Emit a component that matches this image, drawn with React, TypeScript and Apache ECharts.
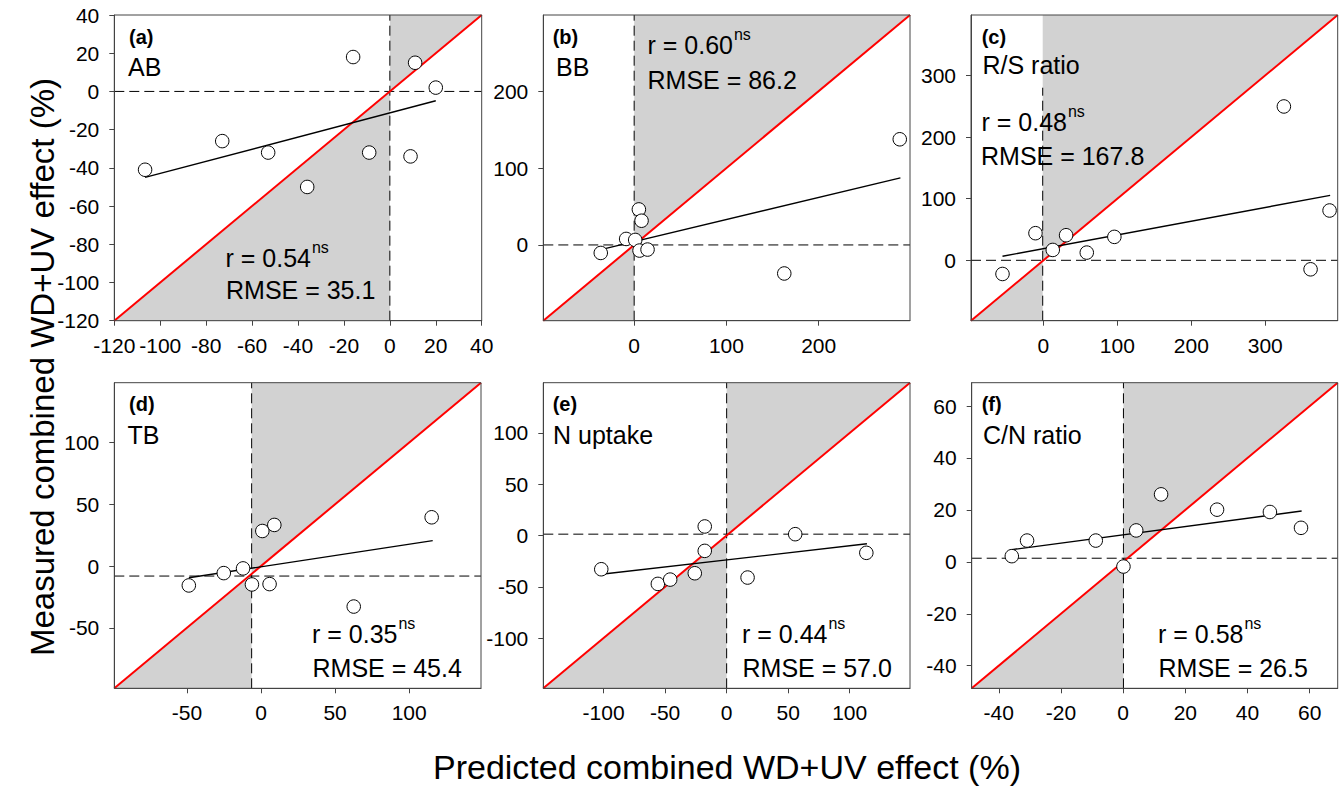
import React, { useEffect, useRef } from 'react';
import * as echarts from 'echarts';

// ---------------- data ----------------
const panelTags = ['(a)', '(b)', '(c)', '(d)', '(e)', '(f)'];
const variableNames = ['AB', 'BB', 'R/S ratio', 'TB', 'N uptake', 'C/N ratio'];
const rValues = ['0.54', '0.60', '0.48', '0.35', '0.44', '0.58'];
const significance = ['ns', 'ns', 'ns', 'ns', 'ns', 'ns'];
const rmseValues = ['35.1', '86.2', '167.8', '45.4', '57.0', '26.5'];

const predictedAB = [-106.6, -73, -53, -36, -16, -9, 9, 11, 20];
const measuredAB = [-41, -26, -32, -50, 18, -32, -34, 15, 2];
const fitAB = [[-106.6, -45], [20, -4.9]];

const predictedBB = [-36.2, -8.7, 1.1, 5.1, 8, 5.8, 14.5, 162.7, 287.9];
const measuredBB = [-10.4, 7.8, 6.5, 46.2, 31.5, -7.3, -6, -37.1, 137.4];
const fitBB = [[-36.2, -6], [288.6, 87.3]];

const predictedRS = [-55.4, -10.8, 12.6, 30.6, 58.6, 95.9, 325.2, 361.3, 387];
const measuredRS = [-22.2, 44, 16.8, 40.7, 12.5, 38, 249.6, -14.6, 80.8];
const fitRS = [[-55.4, 6.5], [387.8, 105.3]];

const predictedTB = [-48.7, -25.1, -12.1, -6.1, 0.9, 9, 5.8, 62.6, 115.2];
const measuredTB = [-15.7, -5.7, -1.9, -14.9, 28.4, 33.3, -14.6, -32.8, 39.5];
const fitTB = [[-48.7, -9.5], [115.9, 20.6]];

const predictedNU = [-101.9, -55.9, -45.9, -25.9, -17.8, -17.8, 17, 55.7, 113.5];
const measuredNU = [-32.9, -47.2, -43, -36.8, 8.8, -15, -41, 1.3, -16.9];
const fitNU = [[-101.9, -37.8], [114, -8.1]];

const predictedCN = [-35.8, -30.9, -8.8, 0.1, 4.2, 12.2, 30.2, 47.2, 57.2];
const measuredCN = [2.2, 8.2, 8.2, -1.8, 12.1, 26, 20.1, 19.2, 13.1];
const fitCN = [[-35.8, 4.7], [57.4, 19.6]];

const predictedAll = [predictedAB, predictedBB, predictedRS, predictedTB, predictedNU, predictedCN];
const measuredAll = [measuredAB, measuredBB, measuredRS, measuredTB, measuredNU, measuredCN];
const fitAll = [fitAB, fitBB, fitRS, fitTB, fitNU, fitCN];

// axis extents (same for x and y in each panel)
const axisRanges = [[-120, 40], [-98.5, 299], [-98, 398], [-99, 148.5], [-149, 149], [-48.7, 69]];
const tickValues = [
  [-120, -100, -80, -60, -40, -20, 0, 20, 40],
  [0, 100, 200],
  [0, 100, 200, 300],
  [-50, 0, 50, 100],
  [-100, -50, 0, 50, 100],
  [-40, -20, 0, 20, 40, 60],
];
// dashed reference lines
const refLineX = [0, 0, -1, -6.3, 0, 0.1];
const refLineY = [0, 0, 0, -8.1, 1.3, 1.4];
const refLineXTop = [40, 299, 280, 148.5, 149, 69];

const xTitle = 'Predicted combined WD+UV effect (%)';
const yTitle = 'Measured combined WD+UV effect (%)';

// ---------------- layout / style ----------------
const FONT = '"Liberation Sans", Arial, Helvetica, sans-serif';
const GREY = '#d2d2d2';
const FRAME = '#444444';

const gridRects = [
  { left: 114.3, top: 15, width: 367.4, height: 305.7 },
  { left: 543.3, top: 15, width: 366.7, height: 305.7 },
  { left: 971, top: 15, width: 366.7, height: 305.7 },
  { left: 114.3, top: 382.7, width: 366.7, height: 305.6 },
  { left: 543.3, top: 382.7, width: 366.7, height: 305.6 },
  { left: 971.7, top: 382.7, width: 366, height: 305.6 },
];

const annotationLayout = [
  { tag: [129, 36.5], name: [128, 66.7], r: [225.5, 257.5], rmse: [226, 290.2] },
  { tag: [552.7, 36.5], name: [556, 66.7], r: [647.5, 44.7], rmse: [647.5, 79.5] },
  { tag: [981.7, 36.5], name: [982.5, 65.3], r: [981.5, 121.7], rmse: [981, 156.2] },
  { tag: [129, 404], name: [127.5, 435], r: [312, 633.8], rmse: [312.5, 667.7] },
  { tag: [552.7, 404], name: [553, 435], r: [742, 633.8], rmse: [742.5, 667.7] },
  { tag: [981.7, 404], name: [983, 435], r: [1158, 633.8], rmse: [1158.5, 667.7] },
];

function measure(text: string, font: string): number {
  const c = document.createElement('canvas').getContext('2d');
  if (!c) return text.length * 12;
  c.font = font;
  return c.measureText(text).width;
}

function buildOption() {
  const grid: any[] = [];
  const xAxis: any[] = [];
  const yAxis: any[] = [];
  const series: any[] = [];
  const graphic: any[] = [];

  for (let i = 0; i < 6; i++) {
    const [lo, hi] = axisRanges[i];
    const xv = refLineX[i];
    const yh = refLineY[i];
    grid.push({
      ...gridRects[i],
      show: true,
      borderColor: FRAME,
      borderWidth: 1,
      backgroundColor: 'transparent',
      z: 10,
    });
    const axisCommon = {
      type: 'value',
      gridIndex: i,
      min: lo,
      max: hi,
      axisLine: { show: true, onZero: false, lineStyle: { color: FRAME, width: 1 } },
      splitLine: { show: false },
      axisTick: {
        show: true,
        length: 5,
        inside: false,
        lineStyle: { color: FRAME, width: 1 },
        customValues: tickValues[i],
      },
    };
    xAxis.push({
      ...axisCommon,
      position: 'bottom',
      axisLabel: {
        customValues: tickValues[i],
        fontSize: 21,
        fontFamily: FONT,
        color: '#000',
        margin: 14,
      },
    });
    yAxis.push({
      ...axisCommon,
      position: 'left',
      axisLabel: {
        customValues: tickValues[i],
        fontSize: 21,
        fontFamily: FONT,
        color: '#000',
        margin: 15,
      },
    });

    // grey shading
    series.push({
      type: 'custom',
      xAxisIndex: i,
      yAxisIndex: i,
      silent: true,
      z: 1,
      clip: false,
      data: [[xv, xv]],
      renderItem: (params: any, api: any) => ({
        type: 'group',
        children: [
          {
            type: 'polygon',
            shape: { points: [api.coord([lo, lo]), api.coord([xv, xv]), api.coord([xv, lo])] },
            style: { fill: GREY },
          },
          {
            type: 'polygon',
            shape: { points: [api.coord([xv, xv]), api.coord([hi, hi]), api.coord([xv, hi])] },
            style: { fill: GREY },
          },
        ],
      }),
    });
    // dashed vertical
    series.push({
      type: 'line',
      xAxisIndex: i,
      yAxisIndex: i,
      silent: true,
      symbol: 'none',
      z: 3,
      data: [[xv, lo], [xv, refLineXTop[i]]],
      lineStyle: { color: '#000', width: 1, type: [10, 5] },
    });
    // dashed horizontal
    series.push({
      type: 'line',
      xAxisIndex: i,
      yAxisIndex: i,
      silent: true,
      symbol: 'none',
      z: 3,
      data: [[lo, yh], [hi, yh]],
      lineStyle: { color: '#000', width: 1, type: [10, 5] },
    });
    // 1:1 line
    series.push({
      type: 'line',
      xAxisIndex: i,
      yAxisIndex: i,
      silent: true,
      symbol: 'none',
      z: 4,
      data: [[lo, lo], [hi, hi]],
      lineStyle: { color: '#ff0000', width: 2 },
    });
    // regression line
    series.push({
      type: 'line',
      xAxisIndex: i,
      yAxisIndex: i,
      silent: true,
      symbol: 'none',
      z: 5,
      data: fitAll[i],
      lineStyle: { color: '#000', width: 1.4 },
    });
    // points
    series.push({
      type: 'scatter',
      xAxisIndex: i,
      yAxisIndex: i,
      z: 6,
      symbol: 'circle',
      symbolSize: 13.5,
      data: predictedAll[i].map((x, k) => [x, measuredAll[i][k]]),
      itemStyle: { color: '#ffffff', borderColor: '#000', borderWidth: 1, opacity: 1 },
    });

    // annotations
    const L = annotationLayout[i];
    const mainFont = `25px ${FONT}`;
    const rText = `r = ${rValues[i]}`;
    const rW = measure(rText, mainFont);
    const txt = (x: number, y: number, text: string, size: number, weight = 'normal') => ({
      type: 'text',
      x,
      y,
      z: 20,
      silent: true,
      style: {
        text,
        fontSize: size,
        fontWeight: weight,
        fontFamily: FONT,
        fill: '#000',
        textAlign: 'left',
        textVerticalAlign: 'middle',
        verticalAlign: 'middle',
      },
    });
    graphic.push(txt(L.tag[0], L.tag[1], panelTags[i], 20, 'bold'));
    graphic.push(txt(L.name[0], L.name[1], variableNames[i], 25));
    graphic.push(txt(L.r[0], L.r[1], rText, 25));
    graphic.push(txt(L.r[0] + rW + 1, L.r[1] - 10, significance[i], 16));
    graphic.push(txt(L.rmse[0], L.rmse[1], `RMSE = ${rmseValues[i]}`, 25));
  }

  graphic.push({
    type: 'text',
    x: 727,
    y: 767,
    silent: true,
    style: {
      text: xTitle,
      fontSize: 34,
      fontFamily: FONT,
      fill: '#000',
      textAlign: 'center',
      textVerticalAlign: 'middle',
      verticalAlign: 'middle',
    },
  });
  graphic.push({
    type: 'text',
    x: 42,
    y: 367,
    rotation: Math.PI / 2,
    silent: true,
    style: {
      text: yTitle,
      fontSize: 33,
      fontFamily: FONT,
      fill: '#000',
      textAlign: 'center',
      textVerticalAlign: 'middle',
      verticalAlign: 'middle',
    },
  });

  return {
    animation: false,
    backgroundColor: '#ffffff',
    textStyle: { fontFamily: FONT },
    grid,
    xAxis,
    yAxis,
    series,
    graphic,
  };
}

export default function App() {
  const ref = useRef<HTMLDivElement>(null);
  useEffect(() => {
    if (!ref.current) return;
    const chart = echarts.init(ref.current, undefined, { renderer: 'svg' });
    chart.setOption(buildOption() as any);
    return () => chart.dispose();
  }, []);
  return (
    <div
      ref={ref}
      style={{ position: 'absolute', left: 0, top: 0, width: 1344, height: 790 }}
    />
  );
}
